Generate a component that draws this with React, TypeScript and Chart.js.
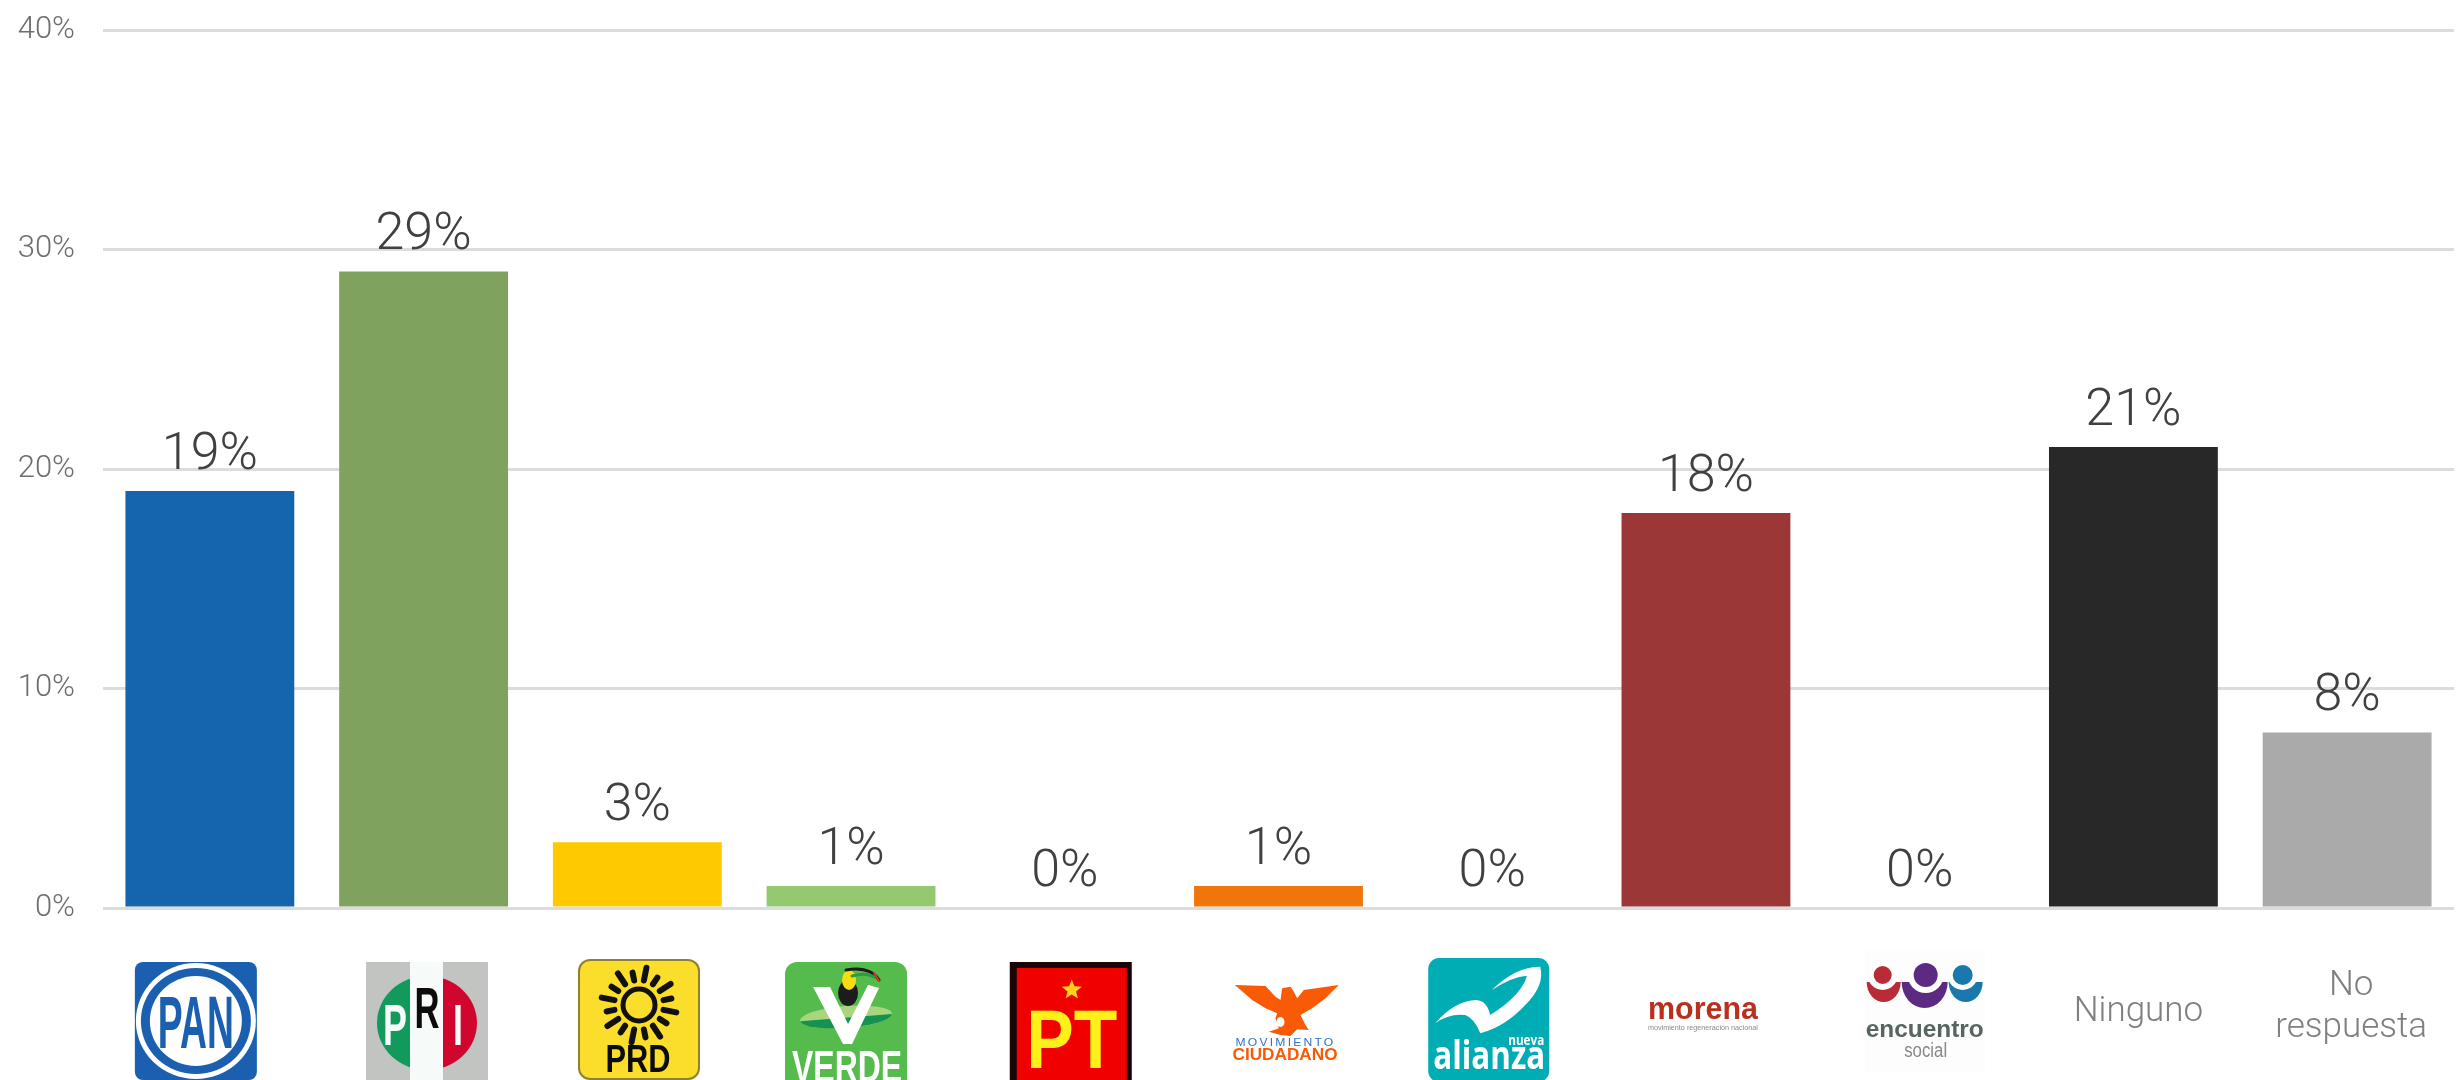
import React, { useEffect, useRef } from "react";
import { Chart, registerables } from "chart.js";

Chart.register(...registerables);

const categories = ["PAN", "PRI", "PRD", "VERDE", "PT", "Movimiento Ciudadano", "Nueva Alianza", "morena", "encuentro social", "Ninguno", "No respuesta"];
const seriesValues = [19, 29, 3, 1, 0, 1, 0, 18, 0, 21, 8];
const barColors = ["#1565ad", "#7fa35f", "#ffc900", "#94c96f", "#7f7f7f", "#f2750c", "#00abb3", "#9b3737", "#6a2a80", "#282828", "#aaaaaa"];
const yTicks = [0, 10, 20, 30, 40];
const textLabels = [["Ninguno"], ["No", "respuesta"]];

const FONT = "Roboto";
type Ctx = CanvasRenderingContext2D;

function rr(ctx: Ctx, x: number, y: number, w: number, h: number, r: number, fill: string) {
  ctx.beginPath();
  ctx.roundRect(x, y, w, h, r);
  ctx.fillStyle = fill;
  ctx.fill();
}
// text centred on cx, sitting on a baseline, squeezed to a target width
function txt(ctx: Ctx, s: string, cx: number, base: number, size: number, fill: string, width: number, weight = "bold", family = "Liberation Sans", spacing = "0px") {
  ctx.save();
  ctx.font = `${weight} ${size}px "${family}"`;
  (ctx as any).letterSpacing = spacing;
  const sx = width / ctx.measureText(s).width;
  ctx.translate(cx, base);
  ctx.scale(sx, 1);
  ctx.fillStyle = fill;
  ctx.textAlign = "center";
  ctx.textBaseline = "alphabetic";
  ctx.fillText(s, 0, 0);
  ctx.restore();
}
function ell(ctx: Ctx, x: number, y: number, rx: number, ry: number, fill: string, rot = 0) {
  ctx.beginPath();
  ctx.ellipse(x, y, rx, ry, rot, 0, Math.PI * 2);
  ctx.fillStyle = fill;
  ctx.fill();
}
function poly(ctx: Ctx, pts: number[][], fill: string) {
  ctx.beginPath();
  pts.forEach(([x, y], i) => (i ? ctx.lineTo(x, y) : ctx.moveTo(x, y)));
  ctx.closePath();
  ctx.fillStyle = fill;
  ctx.fill();
}

function drawLogos(ctx: Ctx, c: (i: number) => number) {
  // PAN
  let x = c(0) - 14;
  rr(ctx, x - 61, 962, 122, 118, 8, "#1a5fb0");
  ell(ctx, x, 1021, 60, 58, "#ffffff");
  ell(ctx, x, 1021, 55, 53, "#1a5fb0");
  ell(ctx, x, 1021, 46, 45, "#ffffff");
  txt(ctx, "PAN", x, 1048, 74, "#1a5fb0", 76);

  // PRI
  x = c(1) + 3.4;
  ctx.fillStyle = "#c2c4c2";
  ctx.fillRect(x - 61, 962, 122, 118);
  ctx.save();
  ctx.beginPath();
  ctx.ellipse(x, 1023, 50, 47, 0, 0, Math.PI * 2);
  ctx.clip();
  ctx.fillStyle = "#129a5c";
  ctx.fillRect(x - 60, 960, 44, 125);
  ctx.fillStyle = "#d0062f";
  ctx.fillRect(x + 16, 960, 44, 125);
  ctx.restore();
  ctx.fillStyle = "#f6faf8";
  ctx.fillRect(x - 17, 962, 33, 118);
  txt(ctx, "P", x - 32, 1045, 58, "#f6faf8", 24);
  txt(ctx, "R", x, 1028, 58, "#0c0c0c", 25);
  txt(ctx, "I", x + 31, 1045, 58, "#f6faf8", 10);

  // PRD
  x = c(2) + 1.7;
  rr(ctx, x - 61, 959, 122, 121, 12, "#8f8130");
  rr(ctx, x - 59, 961, 118, 117, 10, "#fbdd2c");
  const sy = 1005;
  ctx.strokeStyle = "#111111";
  ctx.lineCap = "round";
  ctx.lineWidth = 6;
  for (let a = 0; a < 16; a++) {
    const t = ((a + 0.5) / 16) * Math.PI * 2;
    const r0 = 25;
    const r1 = a % 2 ? 33 : 38;
    ctx.beginPath();
    ctx.moveTo(x + Math.cos(t) * r0, sy + Math.sin(t) * r0);
    ctx.lineTo(x + Math.cos(t) * r1, sy + Math.sin(t) * r1);
    ctx.stroke();
  }
  ctx.lineWidth = 5;
  ctx.beginPath();
  ctx.arc(x, sy, 16, 0, Math.PI * 2);
  ctx.stroke();
  txt(ctx, "PRD", x - 1, 1072, 38, "#0c0c0c", 65);

  // VERDE
  x = c(3) - 5;
  rr(ctx, x - 61, 962, 122, 140, 12, "#55bb4c");
  ell(ctx, x, 1017, 46, 11, "#a9d67c", -0.08);
  ctx.beginPath();
  ctx.ellipse(x, 1017, 46, 11, -0.08, 0.05, Math.PI - 0.05);
  ctx.closePath();
  ctx.fillStyle = "#149350";
  ctx.fill();
  ell(ctx, x + 2, 993, 10, 13, "#1c1c1c");
  ell(ctx, x + 3, 980, 7, 10, "#f6dd12");
  ctx.strokeStyle = "#1c1c1c";
  ctx.lineWidth = 3;
  ctx.lineCap = "round";
  ctx.beginPath();
  ctx.moveTo(x, 970);
  ctx.quadraticCurveTo(x + 24, 966, x + 33, 980);
  ctx.stroke();
  ctx.strokeStyle = "#2f9a43";
  ctx.beginPath();
  ctx.moveTo(x + 6, 976);
  ctx.quadraticCurveTo(x + 20, 972, x + 28, 977);
  ctx.stroke();
  ctx.strokeStyle = "#d9382b";
  ctx.lineWidth = 2;
  ctx.beginPath();
  ctx.moveTo(x + 28, 973);
  ctx.lineTo(x + 33, 981);
  ctx.stroke();
  const vPts = [[-33, 987], [-16, 987], [2, 1024], [22, 985], [33, 988], [6, 1044], [-3, 1044]];
  poly(ctx, vPts.map(([a, b]) => [x + a, b]), "#ffffff");
  txt(ctx, "VERDE", x + 1, 1082, 45, "#ffffff", 110);

  // PT
  x = c(4) + 6;
  ctx.fillStyle = "#1a0505";
  ctx.fillRect(x - 61, 962, 122, 118);
  ctx.fillStyle = "#f10000";
  ctx.fillRect(x - 54, 968, 110, 112);
  const star: number[][] = [];
  for (let k = 0; k < 10; k++) {
    const t = -Math.PI / 2 + (k * Math.PI) / 5;
    const r = k % 2 ? 4.5 : 10.5;
    star.push([x + 1 + Math.cos(t) * r, 990 + Math.sin(t) * r]);
  }
  poly(ctx, star, "#ffd21a");
  txt(ctx, "PT", x + 1, 1068, 83, "#fff01a", 91);

  // Movimiento Ciudadano
  const mx = c(5) - 53;
  const eagle = [[28, 15], [120, 18], [150, 50], [165, 60], [170, 25], [195, 20], [205, 35], [215, 55], [235, 30], [340, 15], [300, 55], [260, 85], [225, 105], [240, 135], [250, 150], [215, 148], [195, 168], [165, 165], [130, 155], [160, 145], [150, 115], [155, 100], [120, 85], [80, 60]];
  poly(ctx, eagle.map(([a, b]) => [mx + a / 3, 980 + b / 3]), "#f95a06");
  ell(ctx, mx + 55, 1022, 4, 5, "#ffffff");
  txt(ctx, "MOVIMIENTO", mx + 60, 1046, 11, "#2f74c4", 100, "normal", "Liberation Sans", "2px");
  txt(ctx, "CIUDADANO", mx + 59.5, 1060, 16, "#f95a06", 105);

  // Nueva Alianza
  const ax = c(6) - 67;
  rr(ctx, ax + 3, 958, 121, 124, 11, "#00adb5");
  const ap = (a: number) => ax + a / 3;
  const ay = (b: number) => 955 + b / 3;
  ctx.beginPath();
  ctx.moveTo(ap(30), ay(205));
  ctx.quadraticCurveTo(ap(85), ay(140), ap(150), ay(135));
  ctx.quadraticCurveTo(ap(185), ay(135), ap(195), ay(180));
  ctx.quadraticCurveTo(ap(290), ay(120), ap(305), ay(62));
  ctx.quadraticCurveTo(ap(260), ay(65), ap(200), ay(105));
  ctx.quadraticCurveTo(ap(270), ay(35), ap(345), ay(35));
  ctx.quadraticCurveTo(ap(360), ay(90), ap(300), ay(150));
  ctx.quadraticCurveTo(ap(240), ay(215), ap(165), ay(235));
  ctx.quadraticCurveTo(ap(148), ay(190), ap(120), ay(180));
  ctx.quadraticCurveTo(ap(70), ay(175), ap(30), ay(205));
  ctx.closePath();
  ctx.fillStyle = "#ffffff";
  ctx.fill();
  txt(ctx, "nueva", ap(303), 1045, 15, "#ffffff", 36, "bold", "Open Sans");
  txt(ctx, "alianza", ap(192), 1069, 39, "#ffffff", 112, "bold", "Open Sans");

  // morena
  x = c(7) - 3;
  txt(ctx, "morena", x, 1019, 32, "#b9301f", 110);
  txt(ctx, "movimiento regeneración nacional", x, 1030, 8, "#8a8a8a", 110, "normal");

  // encuentro social
  x = c(8) + 5;
  rr(ctx, x - 60, 950, 120, 122, 0, "#fdfdfd");
  const parts: [number, number, number, number, number, string][] = [
    [-41, 17, 20, 15, -1, "#b92b37"],
    [41, 17, 20, 15, -3, "#1b78ad"],
    [0, 23, 26, 18, 1, "#5c2a80"],
  ];
  for (const [dx, rx, ry, rin, dot, col] of parts) {
    ctx.beginPath();
    ctx.ellipse(x + dx, 982, rx, ry, 0, 0, Math.PI);
    ctx.closePath();
    ctx.fillStyle = col;
    ctx.fill();
    ell(ctx, x + dx + dot, 975, rin, rin, "#fdfdfd");
    ell(ctx, x + dx + dot, 975, dx === 0 ? 12 : dx < 0 ? 9 : 10, dx === 0 ? 12 : dx < 0 ? 9 : 10, col);
  }
  txt(ctx, "encuentro", x, 1037, 24, "#566462", 118);
  txt(ctx, "social", x + 1, 1057, 20, "#888888", 43, "normal");
}

const overlay = {
  id: "overlay",
  afterDatasetsDraw(chart: any) {
    const { ctx, scales } = chart;
    const xs = scales.x;
    const ys = scales.y;
    ctx.save();
    ctx.font = `300 52px "${FONT}"`;
    ctx.fillStyle = "#404040";
    ctx.textAlign = "center";
    ctx.textBaseline = "alphabetic";
    seriesValues.forEach((v, i) => {
      ctx.fillText(`${v}%`, xs.getPixelForValue(i), ys.getPixelForValue(v) - 22);
    });
    drawLogos(ctx, (i) => xs.getPixelForValue(i));
    ctx.font = `300 35px "${FONT}"`;
    ctx.fillStyle = "#7f7f7f";
    ctx.textAlign = "center";
    ctx.textBaseline = "middle";
    ctx.fillText(textLabels[0][0], xs.getPixelForValue(9) + 5, 1012);
    ctx.fillText(textLabels[1][0], xs.getPixelForValue(10) + 4, 986);
    ctx.fillText(textLabels[1][1], xs.getPixelForValue(10) + 4, 1028);
    ctx.restore();
  },
};

export default function App() {
  const ref = useRef<HTMLCanvasElement>(null);
  useEffect(() => {
    document.body.style.margin = "0";
    document.body.style.background = "#fff";
    const chart = new Chart(ref.current!, {
      type: "bar",
      data: {
        labels: categories,
        datasets: [{ data: seriesValues, backgroundColor: barColors, barPercentage: 1, categoryPercentage: 0.79 }],
      },
      options: {
        animation: false,
        responsive: false,
        layout: { autoPadding: false, padding: { top: 30, left: 0, right: 0, bottom: 0 } },
        plugins: { legend: { display: false }, tooltip: { enabled: false } },
        scales: {
          x: {
            afterFit(s: any) { s.height = 172; },
            grid: { display: false },
            border: { display: false },
            ticks: { display: false },
          },
          y: {
            min: 0,
            max: 40,
            afterFit(s: any) { s.width = 103; s.paddingTop = 0; s.paddingBottom = 0; },
            afterBuildTicks(s: any) { s.ticks = yTicks.map((value) => ({ value })); },
            grid: { color: "#dcdcdc", lineWidth: 3, drawTicks: false },
            border: { display: false },
            ticks: {
              padding: 28,
              color: "#6e6e6e",
              font: { family: FONT, size: 31, weight: "300" as any },
              callback: (v: any) => `${v}%`,
            },
          },
        },
      },
      plugins: [overlay],
    } as any);
    return () => chart.destroy();
  }, []);
  return <canvas ref={ref} width={2454} height={1080} style={{ display: "block" }} />;
}
